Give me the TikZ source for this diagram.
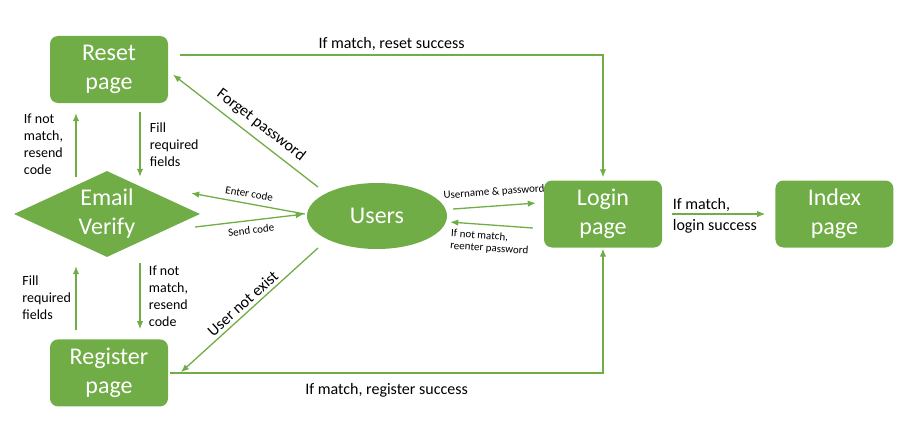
\documentclass[tikz,border=0pt]{standalone}
\usepackage{fontspec}
\setmainfont{Carlito}
\usepackage{tikz}
\usetikzlibrary{shapes.geometric}
\usetikzlibrary{positioning}
\usetikzlibrary{arrows.meta}
\definecolor{pagegreen}{HTML}{70AD47}

\begin{document}
\begin{tikzpicture}[x=1pt, y=-1pt,
	conn/.style={draw=pagegreen, line width=1.3pt, ->, shorten >=1pt},
	pagebox/.style={rectangle, rounded corners=8pt, fill=pagegreen, text=white, minimum width=118, minimum height=67, align=center, inner sep=0pt, font=\fontsize{24}{29}\selectfont},
	sidelbl/.style={align=left, font=\fontsize{14}{17}\selectfont},
	flowlbl/.style={font=\fontsize{16}{21}\selectfont},
	smalllbl/.style={font=\fontsize{11}{12}\selectfont}]
		\tikzset{>={Latex[length=8pt,width=6.5pt]}}
		\useasboundingbox (0,0) rectangle (904,420);

		\node[pagebox] (resetpage) at (109,69.5) {Reset\\page};
		\node[pagebox, below=236pt of resetpage] (registerpage) {Register\\page};
		\node[diamond, fill=pagegreen, text=white, minimum width=186, minimum height=86, aspect=2.16, inner sep=0pt, align=center, font=\fontsize{24}{29}\selectfont] (emailverify) at (107,214) {Email\\Verify};
		\node[ellipse, fill=pagegreen, text=white, minimum width=140, minimum height=66, inner sep=0pt, font=\fontsize{24}{29}\selectfont] (users) at (377,216) {Users};
		\node[pagebox] (loginpage) at (603,214) {Login\\page};
		\node[pagebox, right=113pt of loginpage] (indexpage) {Index\\page};

		%reset / register -> login
		\draw[conn, shorten >=3pt] ([xshift=12pt,yshift=14.5pt]resetpage.east) -| node[pos=0.25, above, flowlbl]{If match, reset success} (loginpage.north);
		\draw[conn, shorten >=1pt] ([xshift=2pt]registerpage.east) -| node[pos=0.25, below=7pt, flowlbl]{If match, register success} (loginpage.south);

		%users -> pages
		\path (users.center) ++(-59,-29) coordinate (fp);
		\path (users.center) ++(-59,32) coordinate (une);
		\draw[conn] (fp) -- node[sloped, above=3pt, pos=0.45, flowlbl]{Forget password} ([xshift=4pt,yshift=-4.5pt]resetpage.east);
		\draw[conn] (une) -- node[sloped, above, midway, flowlbl]{User not exist} ([xshift=12pt]registerpage.east);

		%code exchange
		\draw[conn] ([xshift=-2pt,yshift=2pt]users.west) -- node[sloped, above=2pt, smalllbl]{Enter code} ([xshift=-10pt,yshift=21pt]emailverify.east);
		\draw[conn] ([xshift=-5pt,yshift=-13pt]emailverify.east) -- node[sloped, below=2pt, smalllbl]{Send code} ([xshift=-2pt,yshift=2pt]users.west);

		%login
		\draw[conn] ([xshift=6pt,yshift=7pt]users.east) -- node[sloped, above=5pt, smalllbl]{Username \& password} ([xshift=-7pt,yshift=11pt]loginpage.west);
		\draw[conn] ([xshift=-11pt,yshift=-14pt]loginpage.west) -- node[sloped, below=3pt, align=left, smalllbl]{If not match,\\reenter password} ([xshift=2pt,yshift=-6pt]users.east);
		\draw[conn, shorten <=10pt, shorten >=10pt] (loginpage.east) -- node[pos=0, anchor=west, xshift=8pt, yshift=-2pt, align=left, inner sep=2pt, flowlbl]{If match,\\login success} (loginpage.east -| indexpage.west);

		%verify loop
		\draw[conn] ([xshift=-31pt,yshift=-6pt]emailverify.north) -- node[midway, left=9pt, sidelbl]{If not\\match,\\resend\\code} ([xshift=-33pt,yshift=-9pt]resetpage.south);
		\draw[conn] ([xshift=31pt,yshift=-9pt]resetpage.south) -- node[midway, right=6pt, sidelbl]{Fill\\required\\fields} ([xshift=33pt,yshift=-7pt]emailverify.north);
		\draw[conn] ([xshift=-33pt,yshift=9pt]registerpage.north) -- node[midway, left=1pt, sidelbl]{Fill\\required\\fields} ([xshift=-31pt,yshift=-8pt]emailverify.south);
		\draw[conn] ([xshift=33pt,yshift=-6pt]emailverify.south) -- node[midway, right=5pt, sidelbl]{If not\\match,\\resend\\code} ([xshift=31pt,yshift=9pt]registerpage.north);
\end{tikzpicture}
\end{document}
